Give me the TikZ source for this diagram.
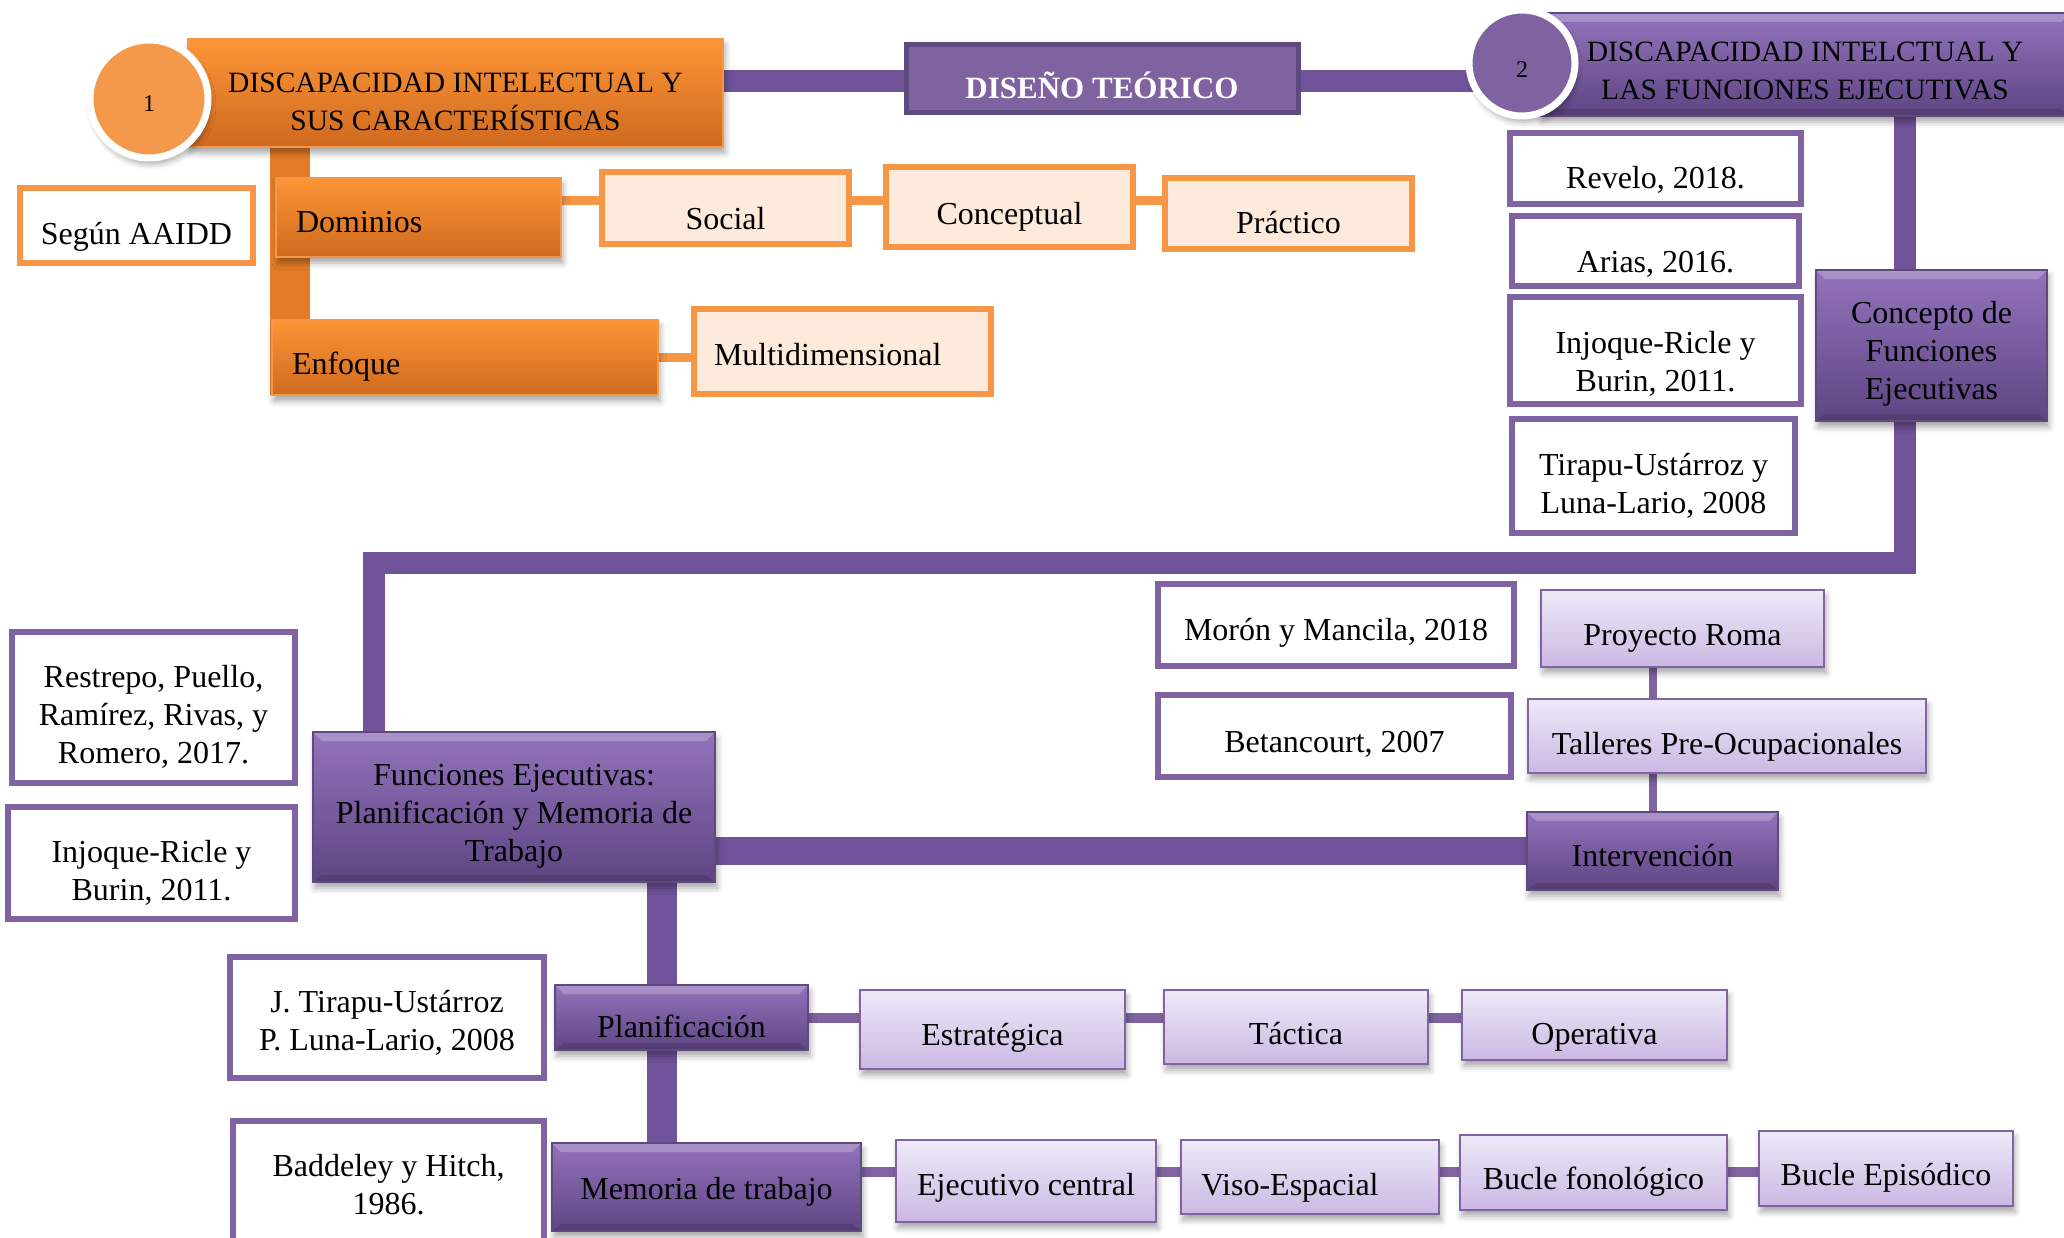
\documentclass[tikz,border=0pt]{standalone}
\usepackage{fontspec}
\setmainfont{Liberation Serif}
\usetikzlibrary{shadows.blur}

\definecolor{orTop}{HTML}{FC9536}
\definecolor{orBot}{HTML}{CF6A1F}
\definecolor{orLine}{HTML}{F79646}
\definecolor{orCircle}{HTML}{F4994C}
\definecolor{orBar}{HTML}{E47C27}
\definecolor{peach}{HTML}{FDEADA}
\definecolor{puTop}{HTML}{9373BC}
\definecolor{puBot}{HTML}{5E4583}
\definecolor{puLine}{HTML}{8064A2}
\definecolor{puDark}{HTML}{5F4A7E}
\definecolor{puFlat}{HTML}{7F63A1}
\definecolor{puBar}{HTML}{70539A}
\definecolor{lvTop}{HTML}{EFE9F8}
\definecolor{lvBot}{HTML}{CAB8E3}

\pgfdeclarelayer{bg}
\pgfsetlayers{bg,main}

% invisible strut on the first line that lowers one-line text inside its box
\def\tshiftamt{18pt}
\newcommand\lowerstrut{\rule{0pt}{\dimexpr 0.72em+\tshiftamt\relax}}
% several centred lines, moved down by #1 without changing the box size
\newcommand\lowered[2]{\raisebox{-#1}[\height][\depth]{\begin{tabular}{@{}c@{}}#2\end{tabular}}}

\begin{document}
\begin{tikzpicture}[x=1pt,y=-1pt,
  every node/.style={font=\fontsize{32}{38}\selectfont, inner sep=4pt, outer sep=0pt,
                     align=center, execute at begin node=\lowerstrut},
  ts/.code={\def\tshiftamt{#1}},
  nostrut/.code={\def\lowerstrut{}},
  sz/.style 2 args={minimum width=#1pt, minimum height=#2pt},
  soft/.style={blur shadow={shadow xshift=2pt, shadow yshift=-6pt, shadow blur radius=6pt, shadow opacity=35}},
  bevel/.style={path picture={
      \fill[white, opacity=0.22]
        (path picture bounding box.north west) -- (path picture bounding box.north east)
        -- ([xshift=-9pt,yshift=-9pt]path picture bounding box.north east)
        -- ([xshift=9pt,yshift=-9pt]path picture bounding box.north west) -- cycle;
      \fill[black, opacity=0.12]
        (path picture bounding box.south west) -- (path picture bounding box.south east)
        -- ([xshift=-9pt,yshift=7pt]path picture bounding box.south east)
        -- ([xshift=9pt,yshift=7pt]path picture bounding box.south west) -- cycle;}},
  orbox/.style={rectangle, top color=orTop, bottom color=orBot, draw=orLine, line width=1.2pt, soft},
  peachbox/.style={rectangle, fill=peach, draw=orLine, line width=6pt},
  orref/.style={rectangle, fill=white, draw=orLine, line width=6pt},
  refbox/.style={rectangle, fill=white, draw=puLine, line width=6pt},
  pubox/.style={rectangle, top color=puTop, bottom color=puBot, draw=puDark, line width=1.5pt, soft, bevel},
  lvbox/.style={rectangle, top color=lvTop, bottom color=lvBot, draw=puLine, line width=2.5pt, soft},
  numcircle/.style={circle, draw=white, line width=7pt, soft},
  lefttext/.style={align=left, text width=#1pt, inner xsep=20pt},
  pbar/.style={draw=puBar, line width=22pt, line cap=rect},
  pthin/.style={draw=puLine, line width=10pt},
  othin/.style={draw=orLine, line width=9pt},
  obar/.style={draw=orBar, line width=40pt}
]
\useasboundingbox (0,0) rectangle (2064,1238);

% ---------- block 1: intellectual disability ----------
\node[orbox, sz={535}{108}, nostrut, font=\fontsize{29.5}{38}\selectfont] (h1) at (455.5,93)
  {\lowered{10.5pt}{DISCAPACIDAD INTELECTUAL Y\\SUS CARACTERÍSTICAS}};
\node[numcircle, fill=orCircle, minimum size=118pt, ts=1pt] (c1) at (149,99) {\fontsize{24}{28}\selectfont 1};

\node[orref, sz={233}{75}, ts=21pt] (sa) at (136.5,225.5) {Según AAIDD};
\node[orbox, sz={285}{79}, lefttext=245, ts=8pt] (do) at (418.5,217.5) {Dominios};
\node[orbox, sz={386}{75}, lefttext=346] (en) at (465,357.5) {Enfoque};
\node[peachbox, sz={247}{72}, ts=21pt] (so) at (725.5,208) {Social};
\node[peachbox, sz={247}{80}] (cn) at (1009.5,207) {Conceptual};
\node[peachbox, sz={247}{71}] (pc) at (1288.5,213.5) {Práctico};
\node[peachbox, sz={297}{85}, lefttext=257, ts=5pt] (mu) at (842.5,351.5) {Multidimensional};

% ---------- theoretical design ----------
\node[rectangle, fill=puFlat, draw=puDark, line width=5pt, sz={392}{68},
      text=white, font=\bfseries\fontsize{31}{38}\selectfont, text height=46pt, text depth=6pt]
  (dt) at (1102,79) {DISEÑO TEÓRICO};

% ---------- block 2: executive functions ----------
\node[pubox, sz={530}{103}, nostrut, font=\fontsize{29.5}{38}\selectfont] (h2) at (1805,64.5)
  {\lowered{8.5pt}{DISCAPACIDAD INTELCTUAL Y\\LAS FUNCIONES EJECUTIVAS}};
\node[numcircle, fill=puFlat, minimum size=106pt, ts=6pt] (c2) at (1522,63) {\fontsize{24}{28}\selectfont 2};

\node[pubox, sz={231}{151}, nostrut] (co) at (1931.5,345.5) {\lowered{8pt}{Concepto de\\Funciones\\Ejecutivas}};
\node[refbox, sz={291}{71}, ts=22pt] (r1) at (1655.5,168.5) {Revelo, 2018.};
\node[refbox, sz={287}{70}, ts=24pt] (r2) at (1655.5,251) {Arias, 2016.};
\node[refbox, sz={291}{107}, nostrut] (r3) at (1655.5,350.5) {\lowered{14.5pt}{Injoque-Ricle y\\Burin, 2011.}};
\node[refbox, sz={283}{114}, nostrut] (r4) at (1653.5,476) {\lowered{10.5pt}{Tirapu-Ustárroz y\\Luna-Lario, 2008}};

% ---------- planning and working memory ----------
\node[pubox, sz={402}{150}, nostrut] (fe) at (514,807)
  {\lowered{9pt}{Funciones Ejecutivas:\\Planificación y Memoria de\\Trabajo}};
\node[refbox, sz={283}{151}, nostrut] (lr1) at (153.5,707.5) {\lowered{10.5pt}{Restrepo, Puello,\\Ramírez, Rivas, y\\Romero, 2017.}};
\node[refbox, sz={287}{112}, nostrut] (lr2) at (151.5,863) {\lowered{11pt}{Injoque-Ricle y\\Burin, 2011.}};

\node[pubox, sz={251}{78}, ts=8pt] (iv) at (1652.5,851) {Intervención};
\node[lvbox, sz={283}{77}] (pr) at (1682.5,628.5) {Proyecto Roma};
\node[lvbox, sz={398}{74}, ts=20pt] (ta) at (1727,736) {Talleres Pre-Ocupacionales};
\node[refbox, sz={356}{82}, ts=15pt] (mo) at (1336,625) {Morón y Mancila, 2018};
\node[refbox, sz={353}{82}, ts=15pt] (be) at (1334.5,736) {Betancourt, 2007};

\node[pubox, sz={253}{65}] (pl) at (681.5,1017.5) {Planificación};
\node[pubox, sz={309}{88}, ts=8pt] (me) at (706.5,1187) {Memoria de trabajo};
\node[refbox, sz={314}{121}, nostrut] (jt) at (387,1017.5) {\lowered{6pt}{J. Tirapu-Ustárroz\\P. Luna-Lario, 2008}};
\node[refbox, sz={311}{124}, nostrut] (bh) at (388.5,1183) {\lowered{5pt}{Baddeley y Hitch,\\1986.}};

\node[lvbox, sz={265}{79}, ts=15pt] (es) at (992.5,1029.5) {Estratégica};
\node[lvbox, sz={264}{74}, ts=12pt] (tc) at (1296,1027) {Táctica};
\node[lvbox, sz={265}{70}, ts=22pt] (op) at (1594.5,1025) {Operativa};

\node[lvbox, sz={260}{82}, ts=12pt] (ej) at (1026,1181) {Ejecutivo central};
\node[lvbox, sz={258}{74}, lefttext=218, ts=20pt] (vi) at (1310,1177) {Viso-Espacial};
\node[lvbox, sz={267}{75}] (bf) at (1593.5,1172.5) {Bucle fonológico};
\node[lvbox, sz={254}{75}] (bep) at (1886,1168.5) {Bucle Episódico};

% ---------- connectors ----------
\coordinate (ox) at (290,0);
\coordinate (yO) at (0,201);
\coordinate (kR) at (1905,563);
\coordinate (kL) at (374,563);
\coordinate (vx) at (662,0);
\coordinate (yM) at (0,1172);

\begin{pgfonlayer}{bg}
  % orange branch
  \draw[obar] (h1.south -| ox) -- (en.south -| ox);
  \draw[othin] (do.east |- yO) -- (so.west |- yO);
  \draw[othin] (so.east |- yO) -- (cn.west |- yO);
  \draw[othin] (cn.east |- yO) -- (pc.west |- yO);
  \draw[othin] (en.east) -- (en.east -| mu.west);
  % top spine
  \draw[pbar, line cap=butt] (h1.east |- 0,81) -- (dt.west |- 0,81);
  \draw[pbar, line cap=butt] (dt.east |- 0,81) -- (c2.center |- 0,81);
  % executive-function spine
  \draw[pbar, line join=miter] (h2.south -| kR) -- (kR) -- (kL) -- (kL |- fe.north);
  \draw[pbar, line width=28pt, line cap=butt] (fe.east |- iv.west) -- (iv.west);
  \draw[pthin, line width=8pt] (iv.north) -- (iv.north |- ta.south);
  \draw[pthin, line width=8pt] (iv.north |- ta.north) -- (iv.north |- pr.south);
  \draw[pbar, line width=30pt, line cap=butt] (fe.south -| vx) -- (me.north -| vx);
  % planning row
  \draw[pthin] (pl.east) -- (pl.east -| es.west);
  \draw[pthin] (es.east |- pl.east) -- (tc.west |- pl.east);
  \draw[pthin] (tc.east |- pl.east) -- (op.west |- pl.east);
  % working-memory row
  \draw[pthin] (me.east |- yM) -- (ej.west |- yM);
  \draw[pthin] (ej.east |- yM) -- (vi.west |- yM);
  \draw[pthin] (vi.east |- yM) -- (bf.west |- yM);
  \draw[pthin] (bf.east |- yM) -- (bep.west |- yM);
\end{pgfonlayer}
\end{tikzpicture}
\end{document}
